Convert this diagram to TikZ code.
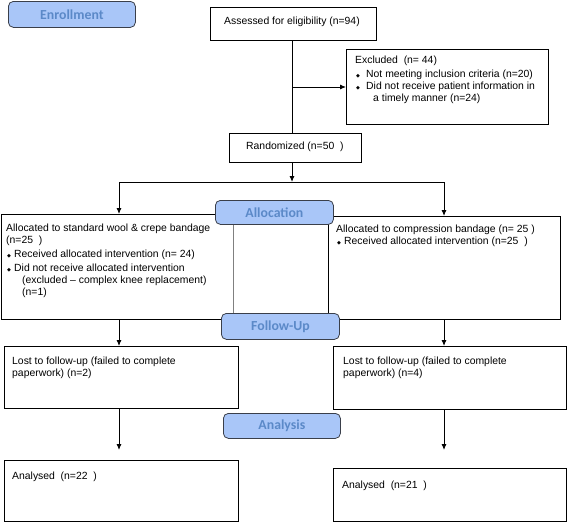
\documentclass[tikz,border=0pt]{standalone}
\usepackage{fontspec}
\setmainfont{Liberation Sans}
\newfontfamily\lblfont{Carlito}
\newfontfamily\symfont{DejaVu Sans}
\usetikzlibrary{arrows.meta}
\definecolor{lblfill}{HTML}{A9C6F8}
\definecolor{lbltext}{HTML}{5B89C8}
\definecolor{lbldraw}{HTML}{3A3F4A}
\newcommand\bul{{\fontsize{5}{5}\symfont ◆}}
\tikzset{
  box/.style={draw=black, line width=0.9pt, fill=white, anchor=north west, inner sep=0pt},
  txt/.style={font=\fontsize{10.4}{12}\selectfont, align=left, inner sep=0pt},
  lbl/.style={draw=lbldraw, line width=0.8pt, fill=lblfill, rounded corners=5pt, text=lbltext,
    font=\lblfont\bfseries\fontsize{13.8}{14}\selectfont, inner sep=0pt, anchor=north west},
  conn/.style={line width=0.9pt, draw=black},
  arr/.style={conn, -{Latex[length=6pt,width=5pt]}}
}
\begin{document}
\begin{tikzpicture}[x=1pt,y=-1pt]
\useasboundingbox (0,0) rectangle (567,522);
% boxes
\node[box, minimum width=166pt, minimum height=33pt] (assess) at (210,7) {};
\node[box, minimum width=202pt, minimum height=75pt] (excl) at (346,49) {};
\node[box, minimum width=132pt, minimum height=29pt] (rand) at (229,133) {};
\node[box, minimum width=232pt, minimum height=105pt] (allocL) at (1,214) {};
\draw[gray, line width=0.9pt] (allocL.north east) -- (allocL.south east);
\node[box, minimum width=232pt, minimum height=103pt] (allocR) at (328,216) {};
\node[box, minimum width=234pt, minimum height=62pt] (lostL) at (4,346) {};
\node[box, minimum width=233pt, minimum height=63pt] (lostR) at (333,346) {};
\node[box, minimum width=234pt, minimum height=61pt] (anaL) at (4,460) {};
\node[box, minimum width=233pt, minimum height=53pt] (anaR) at (333,468) {};
% texts
\node[txt, anchor=west] (tassess) at (224,22) {Assessed for eligibility (n=94)};
\node[txt, anchor=north west] (texcl) at (355,56) {Excluded\ \ (n= 44)\\[2pt]
  \hspace*{1pt}\makebox[10pt][l]{\bul}Not meeting inclusion criteria (n=20)\\
  \hspace*{1pt}\makebox[10pt][l]{\bul}Did not receive patient information in\\
  \hspace*{18pt}a timely manner (n=24)};
\node[txt, anchor=west] (trand) at (246,147) {Randomized (n=50\ \ )};
\node[txt, anchor=north west] (tallocL) at (6,224) {Allocated to standard wool \& crepe bandage\\
  (n=25\ \ )\\[2pt]
  \hspace*{1pt}\makebox[7pt][l]{\bul}Received allocated intervention (n= 24)\\[1.5pt]
  \hspace*{1pt}\makebox[7pt][l]{\bul}Did not receive allocated intervention\\
  \hspace*{16pt}(excluded -- complex knee replacement)\\
  \hspace*{16pt}(n=1)};
\node[txt, anchor=north west] (tallocR) at (336,225) {Allocated to compression bandage (n= 25 )\\
  \hspace*{1pt}\makebox[7pt][l]{\bul}Received allocated intervention (n=25\ \ )};
\node[txt, anchor=north west] (tlostL) at (12,357) {Lost to follow-up (failed to complete\\paperwork) (n=2)};
\node[txt, anchor=north west] (tlostR) at (343,357) {Lost to follow-up (failed to complete\\paperwork) (n=4)};
\node[txt, anchor=west] (tanaL) at (12,477) {Analysed\ \ (n=22\ \ )};
\node[txt, anchor=west] (tanaR) at (342,486) {Analysed\ \ (n=21\ \ )};
% connectors
\coordinate (split) at (292,182);
\coordinate (cL) at (119,182);
\coordinate (cR) at (444,182);
\coordinate (branch) at (292,87);
\draw[conn] (assess.south -| branch) -- (rand.north -| branch);
\draw[arr] (branch) -- (branch -| excl.west);
\draw[arr] (rand.south -| split) -- (split);
\draw[conn] (cL) -- (cR);
\draw[arr] (cL) -- (cL |- allocL.north);
\draw[arr] (cR) -- (cR |- allocR.north);
\draw[arr] (allocL.south -| cL) -- (lostL.north -| cL);
\draw[arr] (allocR.south -| cR) -- (lostR.north -| cR);
\draw[arr, shorten >=10pt] (lostL.south -| cL) -- (anaL.north -| cL);
\draw[arr, shorten >=18pt] (lostR.south -| cR) -- (anaR.north -| cR);
% stage labels
\node[lbl, minimum width=127pt, minimum height=26pt] (enr) at (8,1) {Enrollment};
\node[lbl, minimum width=118pt, minimum height=24pt] (alloc) at (215,200) {Allocation};
\node[lbl, minimum width=118pt, minimum height=26pt] (fu) at (221,313) {Follow-Up};
\node[lbl, minimum width=117pt, minimum height=25pt] (ana) at (223,413) {Analysis};
\end{tikzpicture}
\end{document}
